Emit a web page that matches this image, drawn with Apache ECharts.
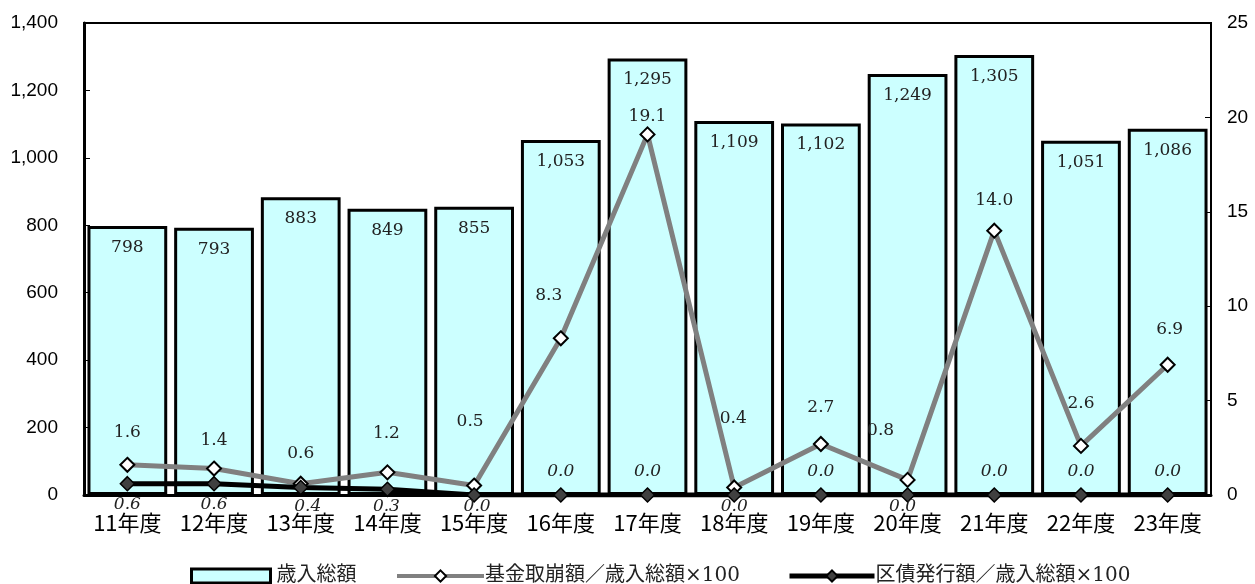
<!DOCTYPE html>
<html><head><meta charset="utf-8">
<script src="https://cdn.jsdelivr.net/npm/echarts@6/dist/echarts.min.js"></script>
<style>html,body{margin:0;padding:0;background:#fff}#c{width:1255px;height:584px}</style>
</head><body><div id="c"></div>
<script>
const categories = ['11年度','12年度','13年度','14年度','15年度','16年度','17年度','18年度','19年度','20年度','21年度','22年度','23年度'];
const revenue = [798, 793, 883, 849, 855, 1053, 1295, 1109, 1102, 1249, 1305, 1051, 1086];
const fundRatio = [1.6, 1.4, 0.6, 1.2, 0.5, 8.3, 19.1, 0.4, 2.7, 0.8, 14.0, 2.6, 6.9];
const bondRatio = [0.6, 0.6, 0.4, 0.3, 0.0, 0.0, 0.0, 0.0, 0.0, 0.0, 0.0, 0.0, 0.0];
const seriesNames = ['歳入総額', '基金取崩額／歳入総額×100', '区債発行額／歳入総額×100'];

// label placement (pixel offsets from each marker, as in the reference)
const fundLabelOffset = [[0,-32],[0,-28],[0,-30],[-1,-39],[-4,-64],[-12,-43],[0,-18],[-1,-69],[0,-36],[-27,-49],[0,-30],[0,-42],[2,-35]];
const bondLabelOffset = [[0,21],[0,21],[7,19],[-1,17],[3,12],[0,-23],[0,-23],[0,12],[0,-23],[-5,12],[0,-23],[0,-23],[0,-23]];

const serif = '"DejaVu Serif","Liberation Serif",serif';
const sans = '"Liberation Sans",Arial,sans-serif';
const legendText = {fontFamily: '"DejaVu Serif","Noto Sans CJK JP",serif', fontSize: 20, color: '#222'};
const chart = echarts.init(document.getElementById('c'));
chart.setOption({
  animation: false,
  backgroundColor: '#fff',
  grid: {left: 84, right: 44, top: 23, bottom: 89, show: true, borderColor: '#000', borderWidth: 2, backgroundColor: 'transparent'},
  legend: [
    {data: [{name: seriesNames[0], icon: 'rect'}], left: 190, top: 566, padding: 0, itemWidth: 79, itemHeight: 14, itemGap: 0,
     itemStyle: {borderColor: '#000', borderWidth: 3}, textStyle: Object.assign({padding: [0, 0, 0, 1]}, legendText)},
    {data: [seriesNames[1]], left: 395, top: 566, padding: 0, itemWidth: 87, itemHeight: 14, itemGap: 0,
     lineStyle: {width: 4}, textStyle: Object.assign({padding: [0, 0, 0, -4]}, legendText)},
    {data: [seriesNames[2]], left: 787, top: 566, padding: 0, itemWidth: 85, itemHeight: 14, itemGap: 0,
     lineStyle: {width: 5}, textStyle: Object.assign({padding: [0, 0, 0, -4]}, legendText)}
  ],
  xAxis: {
    type: 'category', data: categories,
    axisLine: {lineStyle: {color: '#000', width: 3}},
    axisTick: {show: false},
    axisLabel: {interval: 0, hideOverlap: false, fontFamily: '"Noto Sans CJK JP",sans-serif', fontSize: 22, color: '#000', margin: 17}
  },
  yAxis: [
    {type: 'value', min: 0, max: 1400, interval: 200,
     axisLine: {show: true, lineStyle: {color: '#000', width: 3}},
     axisTick: {show: true, inside: true, length: 6, lineStyle: {color: '#000'}},
     splitLine: {show: false},
     axisLabel: {fontFamily: sans, fontSize: 19, color: '#000', margin: 26,
       formatter: v => v.toLocaleString('en-US')}},
    {type: 'value', min: 0, max: 25, interval: 5,
     axisLine: {show: true, lineStyle: {color: '#000', width: 2}},
     axisTick: {show: true, inside: true, length: 6, lineStyle: {color: '#000'}},
     splitLine: {show: false},
     axisLabel: {fontFamily: sans, fontSize: 19, color: '#000', margin: 16}}
  ],
  series: [
    {name: seriesNames[0], type: 'bar', data: revenue, barCategoryGap: '8%',
     itemStyle: {color: '#CCFFFF', borderColor: '#000', borderWidth: 3},
     label: {show: true, position: 'insideTop', distance: 13, fontFamily: serif, fontSize: 17, color: '#222',
       formatter: p => p.value.toLocaleString('en-US')}},
    {name: seriesNames[1], type: 'line', yAxisIndex: 1,
     data: fundRatio.map((v, i) => ({value: v, label: {offset: fundLabelOffset[i]}})),
     lineStyle: {color: '#808080', width: 5},
     symbol: 'diamond', symbolSize: 14,
     itemStyle: {color: '#fff', borderColor: '#000', borderWidth: 2},
     label: {show: true, position: 'inside', fontFamily: serif, fontSize: 17, color: '#222',
       formatter: p => p.value.toFixed(1)}, z: 3},
    {name: seriesNames[2], type: 'line', yAxisIndex: 1, zlevel: 1,
     data: bondRatio.map((v, i) => ({value: v, label: {offset: bondLabelOffset[i]}})),
     lineStyle: {color: '#000', width: 5},
     symbol: 'diamond', symbolSize: 14,
     itemStyle: {color: '#404040', borderColor: '#000', borderWidth: 1.5},
     label: {show: true, position: 'inside', fontFamily: serif, fontStyle: 'italic', fontSize: 17, color: '#222',
       formatter: p => p.value.toFixed(1)}, z: 4}
  ]
});
</script></body></html>
